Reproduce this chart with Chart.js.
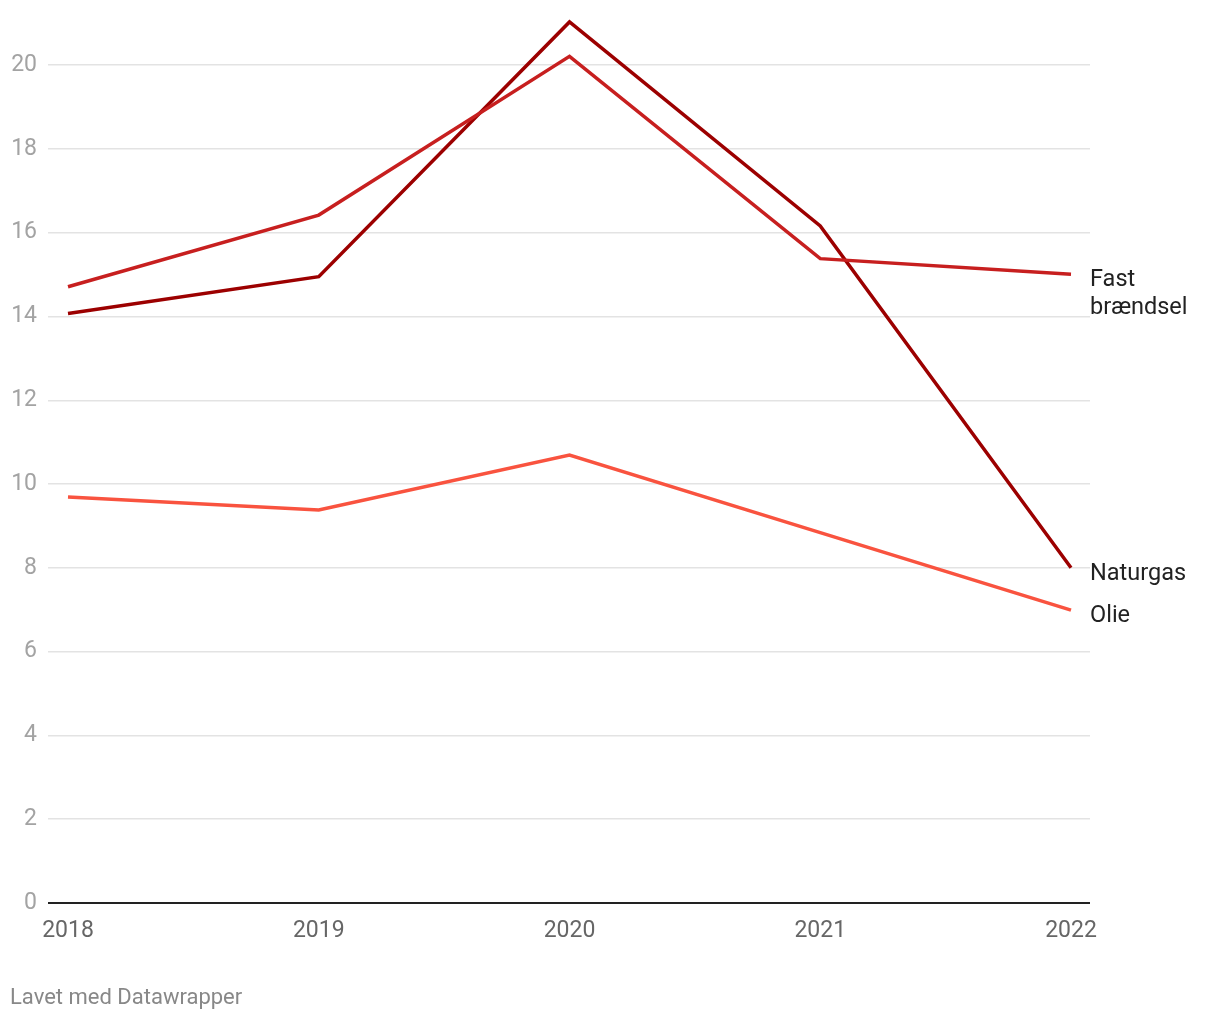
<!DOCTYPE html>
<html>
<head>
<meta charset="utf-8">
<script src="https://cdn.jsdelivr.net/npm/chart.js@4.4.1/dist/chart.umd.min.js"></script>
<style>
  html, body { margin: 0; padding: 0; background: #fff; }
  #wrap { position: relative; width: 1220px; height: 1020px; }
  #footer { position: absolute; left: 10px; top: 984px; font: 22px Roboto, sans-serif; color: #888; }
</style>
</head>
<body>
<div id="wrap">
  <canvas id="chart"></canvas>
  <div id="footer">Lavet med Datawrapper</div>
</div>
<script>
// data
var years = [2018, 2019, 2020, 2021, 2022];
var fastBraendsel = [14.71, 16.42, 20.21, 15.38, 15.01];
var naturgas = [14.07, 14.95, 21.03, 16.16, 8.0];
var olie = [9.69, 9.38, 10.69, 8.84, 6.99];
var yTicks = [0, 2, 4, 6, 8, 10, 12, 14, 16, 18, 20];

var seriesNames = [['Fast', 'brændsel'], ['Naturgas'], ['Olie']];
var seriesColors = ['#c71f1f', '#9c0000', '#f9533f'];

function toPoints(arr) {
  return arr.map(function(v, i) { return { x: years[i], y: v }; });
}

// labels at the end of each line
var endLabels = {
  id: 'endLabels',
  afterDatasetsDraw: function(chart) {
    var ctx = chart.ctx;
    var xs = chart.scales.x, ys = chart.scales.y;
    ctx.save();
    ctx.font = '23.5px Roboto, sans-serif';
    ctx.fillStyle = '#222';
    ctx.textBaseline = 'middle';
    ctx.textAlign = 'left';
    chart.data.datasets.forEach(function(ds, i) {
      var last = ds.data[ds.data.length - 1];
      var px = xs.getPixelForValue(last.x) + 19;
      var py = ys.getPixelForValue(last.y) + 6;
      seriesNames[i].forEach(function(line, j) {
        ctx.fillText(line, px, py + j * 28);
      });
    });
    ctx.restore();
  }
};

var ctx = document.getElementById('chart');

var myChart = new Chart(ctx, {
  type: 'line',
  data: {
    datasets: [
      { label: 'Fast brændsel', data: toPoints(fastBraendsel), borderColor: seriesColors[0] },
      { label: 'Naturgas', data: toPoints(naturgas), borderColor: seriesColors[1] },
      { label: 'Olie', data: toPoints(olie), borderColor: seriesColors[2] }
    ].map(function(d) {
      d.borderWidth = 3.5;
      d.pointRadius = 0;
      d.tension = 0;
      d.fill = false;
      return d;
    })
  },
  options: {
    responsive: true,
    maintainAspectRatio: false,
    animation: false,
    layout: { padding: { top: 19, right: 130, left: 0, bottom: 0 } },
    plugins: {
      legend: { display: false },
      tooltip: { enabled: false }
    },
    scales: {
      x: {
        type: 'linear',
        min: 2018 - 20 / 250.75,
        max: 2022 + 19 / 250.75,
        afterBuildTicks: function(scale) {
          scale.ticks = years.map(function(v) { return { value: v }; });
        },
        afterFit: function(scale) {
          scale.height = 117;
          scale.paddingLeft = 0;
          scale.paddingRight = 0;
        },
        grid: { display: false },
        border: { display: false },
        ticks: {
          padding: 6,
          maxRotation: 0,
          autoSkip: false,
          color: '#666',
          font: { family: 'Roboto', size: 23 },
          callback: function(v) { return String(v); }
        }
      },
      y: {
        min: 0,
        max: 21.1,
        afterBuildTicks: function(scale) {
          scale.ticks = yTicks.map(function(v) { return { value: v }; });
        },
        afterFit: function(scale) {
          scale.width = 48;
          scale.paddingTop = 0;
          scale.paddingBottom = 0;
        },
        border: { display: false },
        grid: {
          drawTicks: false,
          color: function(c) { return c.tick && c.tick.value === 0 ? '#222' : '#e3e3e3'; },
          lineWidth: function(c) { return c.tick && c.tick.value === 0 ? 2 : 1.5; }
        },
        ticks: {
          padding: 11,
          color: '#a3a3a3',
          font: { family: 'Roboto', size: 23 }
        }
      }
    }
  },
  plugins: [endLabels]
});
</script>
</body>
</html>
